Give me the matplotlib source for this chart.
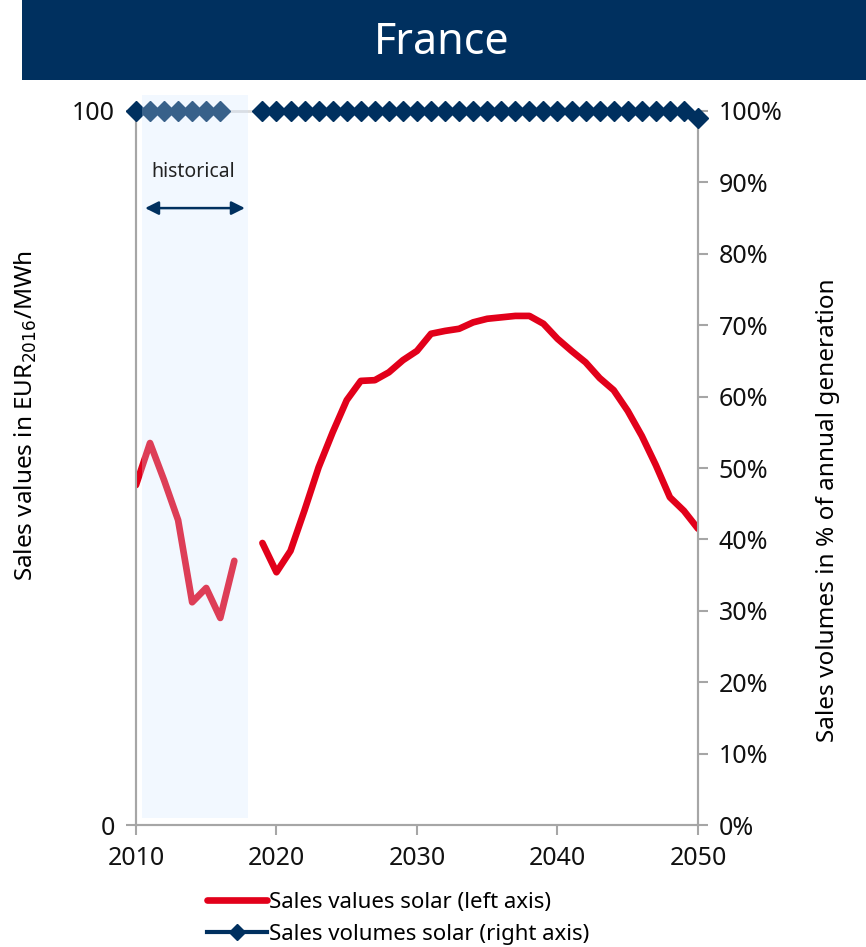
import matplotlib.pyplot as plt
from matplotlib.patches import Rectangle
from matplotlib.lines import Line2D

plt.rcParams['font.family'] = ['Noto Sans', 'DejaVu Sans']

# Datos: valores de venta (eje izquierdo, EUR2016/MWh)
anios_hist = [2010, 2011, 2012, 2013, 2014, 2015, 2016, 2017]
valores_hist = [47.6, 53.5, 48.3, 42.7, 31.2, 33.2, 29.0, 37.0]

anios_fut = list(range(2019, 2051))
valores_fut = [39.5, 35.4, 38.4, 44.1, 50.1, 55.0, 59.5, 62.2, 62.3, 63.4,
               65.1, 66.4, 68.8, 69.2, 69.5, 70.4, 70.9, 71.1, 71.3, 71.3,
               70.2, 68.1, 66.4, 64.8, 62.6, 60.9, 58.0, 54.5, 50.4, 45.9,
               44.0, 41.5]

# Volumenes de venta (eje derecho, % de la generacion anual)
anios_vol_hist = [2010, 2011, 2012, 2013, 2014, 2015, 2016]
vol_hist = [100, 100, 100, 100, 100, 100, 100]
vol_fut = [100] * 31 + [99.0]

rojo = '#e2001a'
azul = '#00305f'
gris = '#a6a6a6'

fig = plt.figure(figsize=(8.66, 9.47), dpi=100)
ax = fig.add_axes([0.157, 0.1288, 0.649, 0.754])
ax2 = ax.twinx()

# Banner del titulo
fig.patches.append(Rectangle((0.0254, 0.9155), 0.975, 0.0845, transform=fig.transFigure,
                             facecolor=azul, edgecolor='none'))
fig.text(0.51, 0.955, 'France', color='white', fontsize=31, ha='center', va='center')

# Serie de valores
ax.plot(anios_hist, valores_hist, color=rojo, lw=4.8, solid_capstyle='round', zorder=3)
ax.plot(anios_fut, valores_fut, color=rojo, lw=4.8, solid_capstyle='round', zorder=3)

# Serie de volumenes
ax2.plot([anios_vol_hist[-1], anios_fut[0]], [vol_hist[-1], vol_fut[0]],
         color='#dcdcdc', lw=2, zorder=2, clip_on=False)
ax2.plot(anios_vol_hist, vol_hist, color=azul, lw=3, marker='D', ms=10.5, zorder=3, clip_on=False)
ax2.plot(anios_fut, vol_fut, color=azul, lw=3, marker='D', ms=10.5, zorder=3, clip_on=False)

# Zona historica (encima de los datos)
ax2.add_patch(Rectangle((2010.43, 1.0), 7.54, 101.2, facecolor=(210/255, 230/255, 1.0),
                        alpha=0.27, edgecolor='none', zorder=4, clip_on=False))
ax2.annotate('', xy=(2010.45, 86.4), xytext=(2017.95, 86.4),
             arrowprops=dict(arrowstyle='<|-|>', color=azul, lw=1.8, mutation_scale=20),
             zorder=5)
ax2.text(2014.1, 91.5, 'historical', ha='center', va='center', fontsize=14, color='#222222', zorder=5)

ax.set_xlim(2010, 2050)
ax.set_ylim(0, 100)
ax2.set_ylim(0, 100)
ax.set_xticks([2010, 2020, 2030, 2040, 2050])
ax.set_yticks([0, 100])
ax2.set_yticks(range(0, 101, 10))
ax2.set_yticklabels([f'{v}%' for v in range(0, 101, 10)])

for a in (ax, ax2):
    a.spines['top'].set_visible(False)
    for s in ('left', 'right', 'bottom'):
        a.spines[s].set_color(gris)
        a.spines[s].set_linewidth(1.5)
    a.tick_params(colors=gris, labelcolor='#111111', labelsize=18, length=7, width=1.5)
ax.tick_params(axis='x', pad=8)
ax.tick_params(axis='y', pad=8)
ax2.tick_params(axis='y', pad=8)

ax.set_ylabel('Sales values in EUR$_{2016}$/MWh', fontsize=17.5)
ax2.set_ylabel('Sales volumes in % of annual generation', fontsize=17.5)
ax.yaxis.set_label_coords(-0.172, 0.574)
ax2.yaxis.set_label_coords(1.21, 0.441)

# Leyenda
manejadores = [
    Line2D([0], [0], color=rojo, lw=4.8, solid_capstyle='round'),
    Line2D([0], [0], color=azul, lw=3, marker='D', ms=8),
]
fig.legend(manejadores, ['Sales values solar (left axis)', 'Sales volumes solar (right axis)'],
           loc='upper left', bbox_to_anchor=(0.226, 0.07), frameon=False, fontsize=16,
           handlelength=2.7, handletextpad=0.1, labelspacing=0.5, borderpad=0)

plt.savefig('out.png', dpi=100)
